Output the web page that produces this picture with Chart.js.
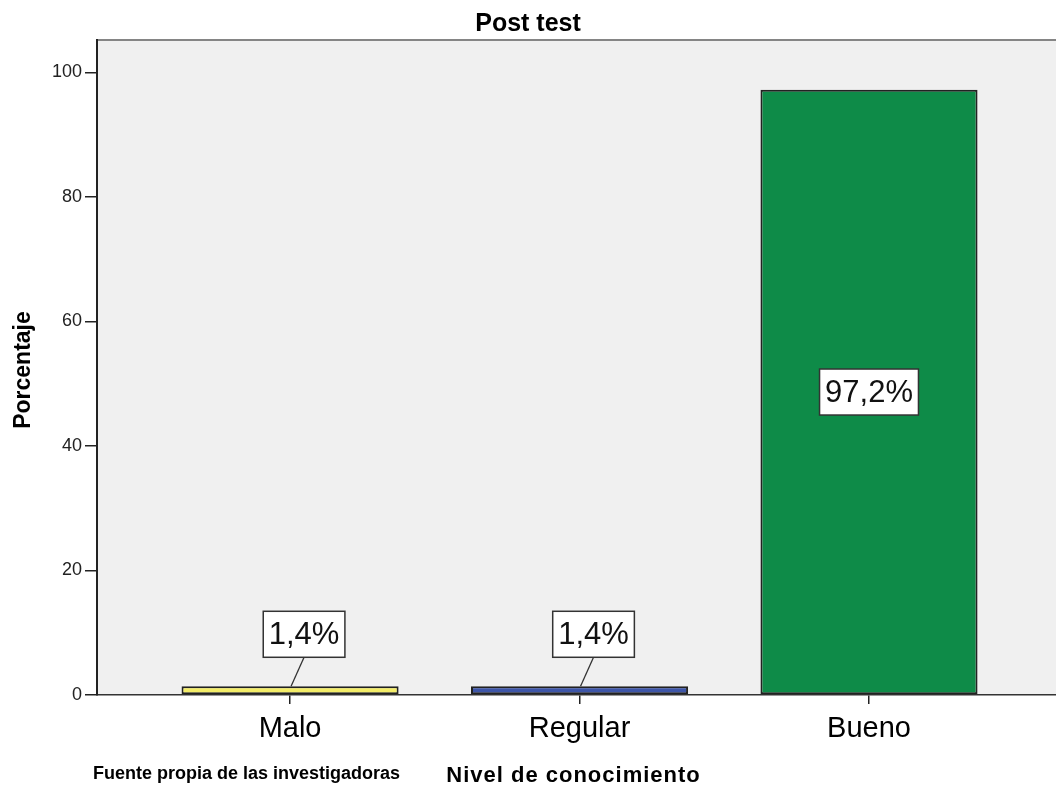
<!DOCTYPE html>
<html>
<head>
 <meta charset="utf-8" />
 <title>Post test</title>
 <script src="https://cdn.jsdelivr.net/npm/chart.js@4.4.1/dist/chart.umd.min.js"></script>
 <style>
  html, body { margin: 0; padding: 0; background: #ffffff; }
  canvas { display: block; }
 </style>
</head>
<body>
 <canvas id="myChart" width="1056" height="785"></canvas>

 <script>
  // data
  var categories = ["Malo", "Regular", "Bueno"];
  var percentages = [1.4, 1.4, 97.2];
  var barColors = ["#f4ed68", "#3d55a8", "#0e8b48"];
  var yTicks = [0, 20, 40, 60, 80, 100];

  var chartTitle = "Post test";
  var yTitle = "Porcentaje";
  var xTitle = "Nivel de conocimiento";
  var sourceNote = "Fuente propia de las investigadoras";

  function formatPct(v) {
   return v.toFixed(1).replace(".", ",") + "%";
  }

  // grey plot background + thin top frame line
  var plotBackground = {
   id: "plotBackground",
   beforeDraw: function (chart) {
    var ctx = chart.ctx, a = chart.chartArea;
    ctx.save();
    ctx.fillStyle = "#f0f0f0";
    ctx.fillRect(a.left, a.top, a.right - a.left, a.bottom - a.top);
    ctx.strokeStyle = "#858585";
    ctx.lineWidth = 2;
    ctx.beginPath();
    ctx.moveTo(a.left, a.top);
    ctx.lineTo(a.right, a.top);
    ctx.stroke();
    ctx.restore();
   }
  };

  // boxed value labels, with a leader line for the short bars
  var boxLabels = {
   id: "boxLabels",
   afterDatasetsDraw: function (chart) {
    var ctx = chart.ctx;
    var meta = chart.getDatasetMeta(0);
    ctx.save();
    ctx.font = "31px Arial, 'Liberation Sans'";
    ctx.textAlign = "center";
    ctx.textBaseline = "middle";
    meta.data.forEach(function (bar, i) {
     var text = formatPct(percentages[i]);
     var w = ctx.measureText(text).width + 11;
     var h = 46;
     var cx, cy;
     if (percentages[i] < 10) {
      cx = bar.x + 14;
      cy = bar.y - 29 - h / 2;
      ctx.strokeStyle = "#333333";
      ctx.lineWidth = 1.3;
      ctx.beginPath();
      ctx.moveTo(cx, cy + h / 2);
      ctx.lineTo(bar.x + 1, bar.y);
      ctx.stroke();
     } else {
      cx = bar.x;
      cy = (bar.y + bar.base) / 2;
     }
     ctx.fillStyle = "#ffffff";
     ctx.fillRect(cx - w / 2, cy - h / 2, w, h);
     ctx.strokeStyle = "#333333";
     ctx.lineWidth = 1.5;
     ctx.strokeRect(cx - w / 2, cy - h / 2, w, h);
     ctx.fillStyle = "#111111";
     ctx.fillText(text, cx, cy + 1);
    });
    ctx.restore();
   }
  };

  // titles and the source note
  var texts = {
   id: "texts",
   afterDraw: function (chart) {
    var ctx = chart.ctx, a = chart.chartArea;
    ctx.save();
    ctx.fillStyle = "#000000";
    ctx.textAlign = "center";
    ctx.textBaseline = "alphabetic";
    ctx.font = "bold 25px Arial, 'Liberation Sans'";
    ctx.fillText(chartTitle, 528, 31);

    ctx.save();
    ctx.translate(30, 370);
    ctx.rotate(-Math.PI / 2);
    ctx.font = "bold 23px Arial, 'Liberation Sans'";
    ctx.fillText(yTitle, 0, 0);
    ctx.restore();

    ctx.font = "bold 22px Arial, 'Liberation Sans'";
    ctx.letterSpacing = "1px";
    ctx.fillText(xTitle, (a.left + a.right) / 2 - 3, 782);
    ctx.letterSpacing = "0px";

    ctx.textAlign = "left";
    ctx.font = "bold 18px Arial, 'Liberation Sans'";
    ctx.fillText(sourceNote, 93, 779);
    ctx.restore();
   }
  };

  var ctx = document.getElementById("myChart").getContext("2d");
  var chart = new Chart(ctx, {
   type: "bar",
   data: {
    datasets: [{
     data: percentages.map(function (v, i) { return { x: i, y: v }; }),
     backgroundColor: barColors,
     borderColor: "#222222",
     borderWidth: 2,
     borderSkipped: false,
     barPercentage: 0.75,
     categoryPercentage: 1
    }]
   },
   options: {
    responsive: false,
    devicePixelRatio: 1,
    animation: false,
    layout: { padding: { top: 40, left: 0, right: 0, bottom: 0 } },
    plugins: {
     legend: { display: false },
     tooltip: { enabled: false }
    },
    scales: {
     x: {
      type: "linear",
      offset: false,
      min: -0.667,
      max: 2.646,
      afterBuildTicks: function (scale) {
       scale.ticks = categories.map(function (c, i) { return { value: i }; });
      },
      afterFit: function (scale) { scale.height = 90; },
      ticks: {
       autoSkip: false,
       maxRotation: 0,
       padding: 8,
       color: "#000000",
       font: { family: "Arial, 'Liberation Sans'", size: 29 },
       callback: function (value) { return categories[value]; }
      },
      grid: { display: true, offset: false, drawOnChartArea: false, tickLength: 9, color: "#222222", lineWidth: 1.5 },
      border: { display: true, color: "#333333", width: 1.5 }
     },
     y: {
      min: 0,
      max: 105.2,
      afterBuildTicks: function (scale) {
       scale.ticks = yTicks.map(function (v) { return { value: v }; });
      },
      afterFit: function (scale) { scale.width = 97; },
      ticks: {
       padding: 3,
       color: "#222222",
       font: { family: "Arial, 'Liberation Sans'", size: 18 }
      },
      grid: { display: true, drawOnChartArea: false, tickLength: 12, color: "#222222", lineWidth: 1.5 },
      border: { display: true, color: "#222222", width: 2 }
     }
    }
   },
   plugins: [plotBackground, boxLabels, texts]
  });
 </script>
</body>
</html>
